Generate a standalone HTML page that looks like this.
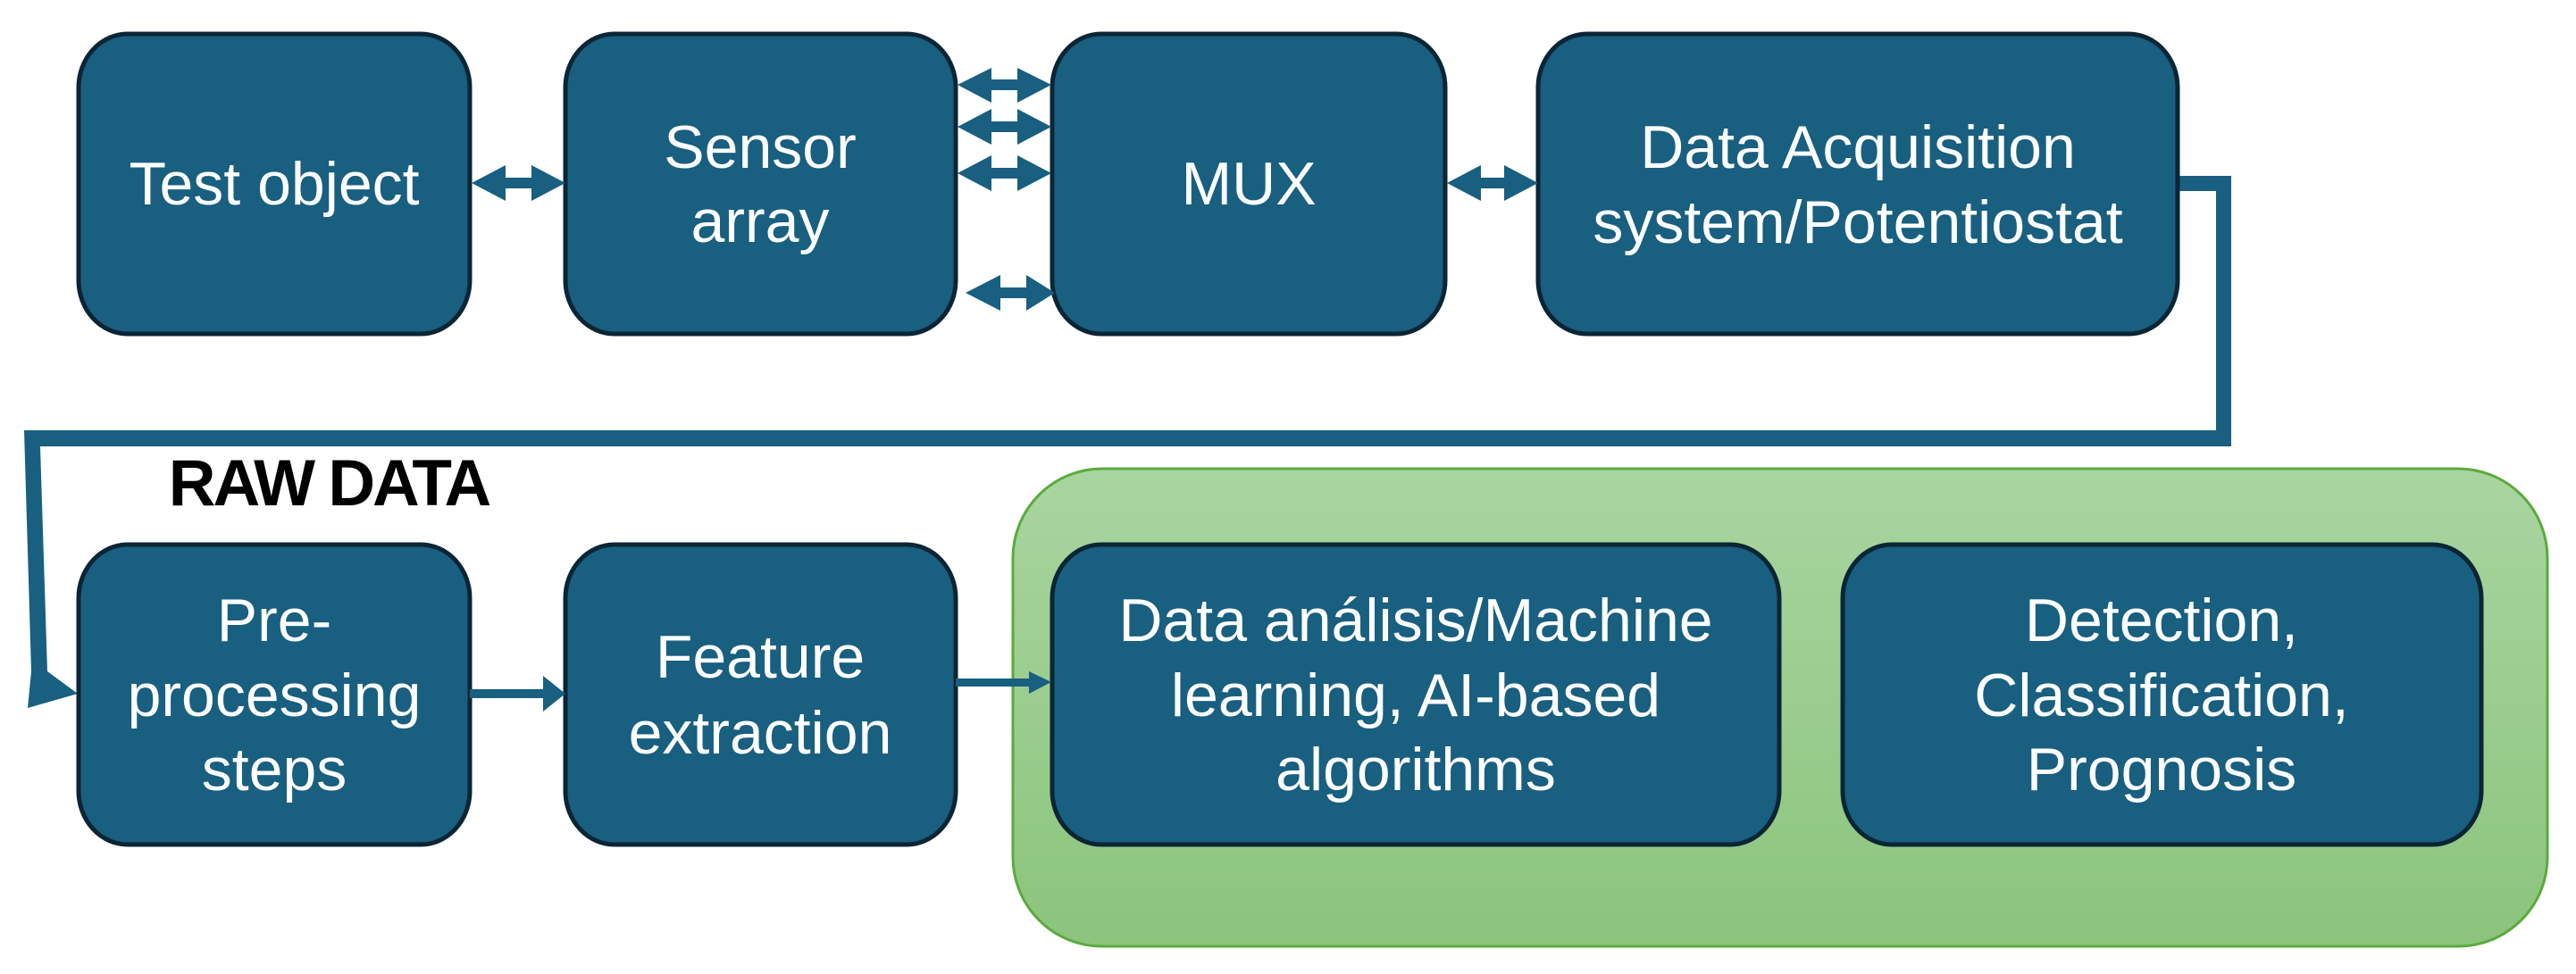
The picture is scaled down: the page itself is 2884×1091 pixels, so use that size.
<!DOCTYPE html>
<html><head><meta charset="utf-8"><style>
html,body{margin:0;padding:0;background:#fff;}
svg{display:block;}
text{font-family:"Liberation Sans",sans-serif;fill:#fff;font-size:68px;text-anchor:middle;}
</style></head><body>
<svg width="2884" height="1091" viewBox="0 0 2884 1091" xmlns="http://www.w3.org/2000/svg">
<defs>
<linearGradient id="g" x1="0" y1="0" x2="0" y2="1">
<stop offset="0" stop-color="#a9d5a0"/><stop offset="1" stop-color="#8bc47c"/>
</linearGradient>
</defs>
<rect x="1134" y="525" width="1718" height="535" rx="100" ry="100" fill="url(#g)" stroke="#5aab3c" stroke-width="3"/>
<polygon fill="#185f80" points="2438,197 2498,197 2498,500 45,500 53,752 87,777 31,793 35,752 27,482 2481,482 2481,214 2438,214"/>
<g fill="#185f80" stroke="#0b2535" stroke-width="5">
<rect x="88" y="38" width="438" height="336" rx="55" ry="60"/>
<rect x="633" y="38" width="437" height="336" rx="55" ry="60"/>
<rect x="1178" y="38" width="440" height="336" rx="55" ry="60"/>
<rect x="1722" y="38" width="716" height="336" rx="55" ry="60"/>
<rect x="88" y="610" width="438" height="336" rx="55" ry="60"/>
<rect x="633" y="610" width="437" height="336" rx="55" ry="60"/>
<rect x="1178" y="610" width="814" height="336" rx="55" ry="60"/>
<rect x="2063" y="610" width="715" height="336" rx="55" ry="60"/>
</g>
<g fill="#185f80">
<polygon points="528,205 566,185 566,199 595,199 595,185 633,205 595,225 595,211 566,211 566,225"/>
<polygon points="1072,95 1110,76 1110,89 1139,89 1139,76 1177,95 1139,115 1139,101 1110,101 1110,115"/>
<polygon points="1072,142 1110,122 1110,136 1139,136 1139,122 1177,142 1139,162 1139,148 1110,148 1110,162"/>
<polygon points="1072,194 1110,174 1110,188 1139,188 1139,174 1177,194 1139,214 1139,200 1110,200 1110,214"/>
<polygon points="1081,328 1120,308 1120,322 1149,322 1149,308 1181,328 1149,348 1149,334 1120,334 1120,348"/>
<polygon points="1620,205 1658,185 1658,199 1684,199 1684,185 1722,205 1684,225 1684,211 1658,211 1658,225"/>
<polygon points="526,772 608,772 608,757 633,777 608,797 608,782 526,782"/>
<polygon points="1070,760 1152,760 1152,752 1177,764 1152,777 1152,769 1070,769"/>
</g>
<text x="307" y="229">Test object</text>
<text x="851" y="188">Sensor</text>
<text x="851" y="271">array</text>
<text x="1398" y="229">MUX</text>
<text x="2080" y="188">Data Acquisition</text>
<text x="2080" y="272">system/Potentiostat</text>
<text x="307" y="718">Pre-</text>
<text x="307" y="802">processing</text>
<text x="307" y="885">steps</text>
<text x="851" y="759">Feature</text>
<text x="851" y="844">extraction</text>
<text x="1585" y="718">Data análisis/Machine</text>
<text x="1585" y="802">learning, AI-based</text>
<text x="1585" y="885">algorithms</text>
<text x="2420" y="718">Detection,</text>
<text x="2420" y="802">Classification,</text>
<text x="2420" y="885">Prognosis</text>
<text x="368" y="566" style="fill:#000;font-weight:bold;font-size:73px;letter-spacing:-3px">RAW DATA</text>
</svg>
</body></html>
